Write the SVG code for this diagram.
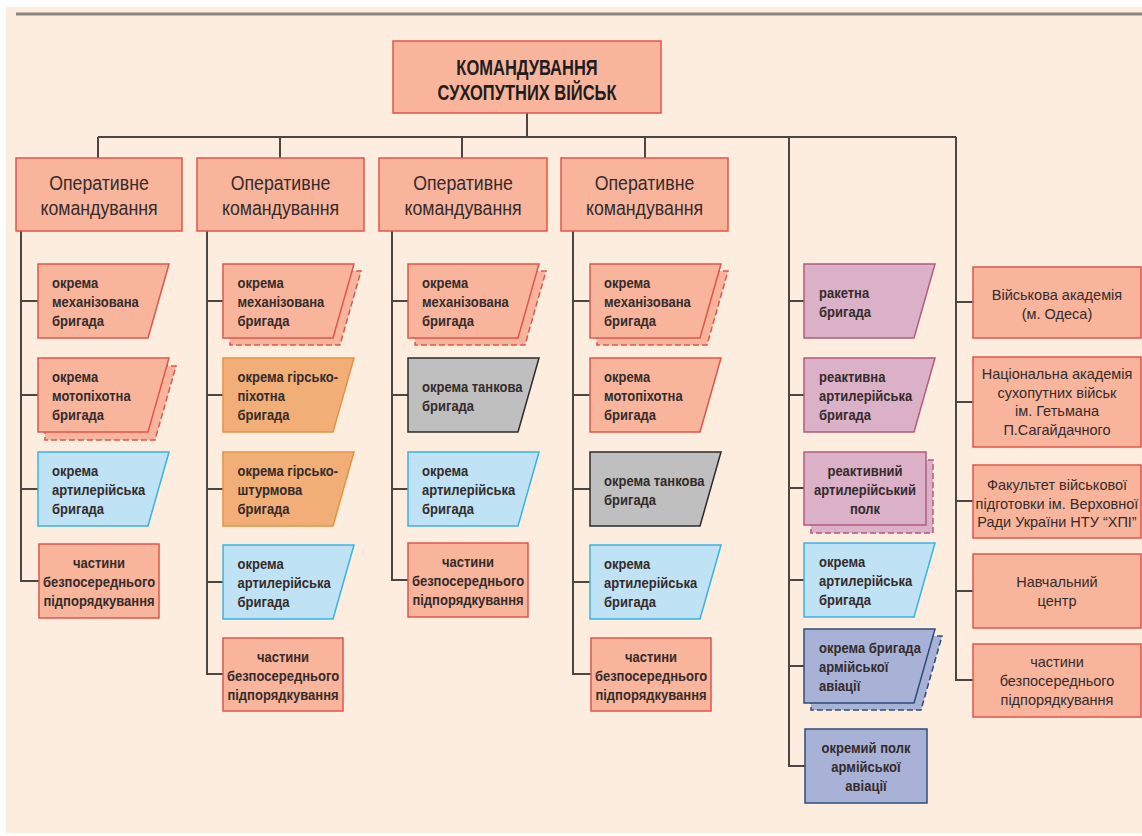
<svg xmlns="http://www.w3.org/2000/svg" width="1142" height="836" viewBox="0 0 1142 836">
<defs>
<style>
.sal{fill:#f8b59c;stroke:#e0554d;stroke-width:1.5}
.org{fill:#f2ae77;stroke:#e6913f;stroke-width:1.5}
.blu{fill:#bfe3f5;stroke:#3ab2e2;stroke-width:1.5}
.gry{fill:#bfbfbf;stroke:#2b2b2b;stroke-width:1.5}
.pur{fill:#dbb1c7;stroke:#b45a80;stroke-width:1.5}
.avi{fill:#a8b2d7;stroke:#2f4c78;stroke-width:1.5}
.dash{stroke-dasharray:6 3}
.conn{stroke:#4d4542;stroke-width:2;fill:none}
text{font-family:"Liberation Sans",Arial,sans-serif;fill:#352b2b}
.b{font-size:15.5px;font-weight:bold}
.c{text-anchor:middle}
.r{font-size:14.5px;text-anchor:middle}
.op{font-size:19.5px;text-anchor:middle}
.ti{font-size:22px;font-weight:bold;text-anchor:middle;fill:#231c1c}
</style>
<path id="para" d="M0,0 H131 L110,74 H0 Z"/>
</defs>
<rect x="0" y="0" width="1142" height="836" fill="#ffffff"/>
<rect x="6" y="7" width="1136" height="826" fill="#fdeddf"/>
<line x1="16" y1="14" x2="1142" y2="14" stroke="#8c8580" stroke-width="3"/>

<g id="connectors" class="conn">
<path d="M527,113 V137 M98,137 H956 M98,137 V158 M280,137 V158 M462,137 V158 M645,137 V158"/>
<path d="M21,231 V581 H39 M21,301 H38 M21,395 H38 M21,489 H38"/>
<path d="M207,231 V674 H223 M207,301 H223 M207,395 H223 M207,489 H223 M207,582 H223"/>
<path d="M392,231 V580 H408 M392,301 H408 M392,395 H408 M392,489 H408"/>
<path d="M573,231 V674 H591 M573,301 H590 M573,395 H590 M573,489 H590 M573,582 H590"/>
<path d="M789,137 V766 H805 M789,301 H804 M789,395 H804 M789,488 H804 M789,580 H804 M789,666 H804"/>
<path d="M956,137 V680 H973 M956,302 H973 M956,402 H973 M956,501 H973 M956,591 H973"/>
</g>

<g id="top">
<rect class="sal" x="393" y="41" width="268" height="72"/>
<g transform="translate(527 0) scale(0.75 1)"><text class="ti" y="75">КОМАНДУВАННЯ</text><text class="ti" y="100">СУХОПУТНИХ ВІЙСЬК</text></g>
</g>

<g id="op1"><rect class="sal" x="16" y="158" width="166" height="73"/>
<g transform="translate(99 0) scale(0.91 1)"><text class="op" y="190">Оперативне</text><text class="op" y="215">командування</text></g></g>
<g id="op2"><rect class="sal" x="197" y="158" width="167" height="73"/>
<g transform="translate(280.5 0) scale(0.91 1)"><text class="op" y="190">Оперативне</text><text class="op" y="215">командування</text></g></g>
<g id="op3"><rect class="sal" x="379" y="158" width="168" height="73"/>
<g transform="translate(463 0) scale(0.91 1)"><text class="op" y="190">Оперативне</text><text class="op" y="215">командування</text></g></g>
<g id="op4"><rect class="sal" x="561" y="158" width="167" height="73"/>
<g transform="translate(644.5 0) scale(0.91 1)"><text class="op" y="190">Оперативне</text><text class="op" y="215">командування</text></g></g>

<!-- column 1 -->
<g id="c1n1"><use href="#para" class="sal" x="38" y="264"/>
<g transform="translate(52 0) scale(0.84 1)"><text class="b" y="288.5">окрема</text><text class="b" y="307.5">механізована</text><text class="b" y="326.5">бригада</text></g></g>
<g id="c1n2"><use href="#para" class="sal dash" x="45" y="366"/><use href="#para" class="sal" x="38" y="358"/>
<g transform="translate(52 0) scale(0.84 1)"><text class="b" y="382.5">окрема</text><text class="b" y="401.5">мотопіхотна</text><text class="b" y="420.5">бригада</text></g></g>
<g id="c1n3"><use href="#para" class="blu" x="38" y="452"/>
<g transform="translate(52 0) scale(0.84 1)"><text class="b" y="476.5">окрема</text><text class="b" y="495.5">артилерійська</text><text class="b" y="514.5">бригада</text></g></g>
<g id="c1n4"><rect class="sal" x="39" y="544" width="120" height="74"/>
<g transform="translate(99 0) scale(0.84 1)"><text class="b c" y="568.5">частини</text><text class="b c" y="587.5">безпосереднього</text><text class="b c" y="606.5">підпорядкування</text></g></g>

<!-- column 2 -->
<g id="c2n1"><use href="#para" class="sal dash" x="230" y="271"/><use href="#para" class="sal" x="223" y="264"/>
<g transform="translate(237.5 0) scale(0.84 1)"><text class="b" y="288.5">окрема</text><text class="b" y="307.5">механізована</text><text class="b" y="326.5">бригада</text></g></g>
<g id="c2n2"><use href="#para" class="org" x="223" y="358"/>
<g transform="translate(237.5 0) scale(0.84 1)"><text class="b" y="382.5">окрема гірсько-</text><text class="b" y="401.5">піхотна</text><text class="b" y="420.5">бригада</text></g></g>
<g id="c2n3"><use href="#para" class="org" x="223" y="452"/>
<g transform="translate(237.5 0) scale(0.84 1)"><text class="b" y="476.5">окрема гірсько-</text><text class="b" y="495.5">штурмова</text><text class="b" y="514.5">бригада</text></g></g>
<g id="c2n4"><use href="#para" class="blu" x="223" y="545"/>
<g transform="translate(237.5 0) scale(0.84 1)"><text class="b" y="569.5">окрема</text><text class="b" y="588.5">артилерійська</text><text class="b" y="607.5">бригада</text></g></g>
<g id="c2n5"><rect class="sal" x="223" y="638" width="120" height="73"/>
<g transform="translate(283 0) scale(0.84 1)"><text class="b c" y="662">частини</text><text class="b c" y="681">безпосереднього</text><text class="b c" y="700">підпорядкування</text></g></g>

<!-- column 3 -->
<g id="c3n1"><use href="#para" class="sal dash" x="415" y="271"/><use href="#para" class="sal" x="408" y="264"/>
<g transform="translate(422 0) scale(0.84 1)"><text class="b" y="288.5">окрема</text><text class="b" y="307.5">механізована</text><text class="b" y="326.5">бригада</text></g></g>
<g id="c3n2"><use href="#para" class="gry" x="408" y="358"/>
<g transform="translate(422 0) scale(0.84 1)"><text class="b" y="392">окрема танкова</text><text class="b" y="411">бригада</text></g></g>
<g id="c3n3"><use href="#para" class="blu" x="408" y="452"/>
<g transform="translate(422 0) scale(0.84 1)"><text class="b" y="476.5">окрема</text><text class="b" y="495.5">артилерійська</text><text class="b" y="514.5">бригада</text></g></g>
<g id="c3n4"><rect class="sal" x="408" y="543" width="120" height="74"/>
<g transform="translate(468 0) scale(0.84 1)"><text class="b c" y="567.5">частини</text><text class="b c" y="586.5">безпосереднього</text><text class="b c" y="605.5">підпорядкування</text></g></g>

<!-- column 4 -->
<g id="c4n1"><use href="#para" class="sal dash" x="597" y="271"/><use href="#para" class="sal" x="590" y="264"/>
<g transform="translate(604 0) scale(0.84 1)"><text class="b" y="288.5">окрема</text><text class="b" y="307.5">механізована</text><text class="b" y="326.5">бригада</text></g></g>
<g id="c4n2"><use href="#para" class="sal" x="590" y="358"/>
<g transform="translate(604 0) scale(0.84 1)"><text class="b" y="382.5">окрема</text><text class="b" y="401.5">мотопіхотна</text><text class="b" y="420.5">бригада</text></g></g>
<g id="c4n3"><use href="#para" class="gry" x="590" y="452"/>
<g transform="translate(604 0) scale(0.84 1)"><text class="b" y="486">окрема танкова</text><text class="b" y="505">бригада</text></g></g>
<g id="c4n4"><use href="#para" class="blu" x="590" y="545"/>
<g transform="translate(604 0) scale(0.84 1)"><text class="b" y="569.5">окрема</text><text class="b" y="588.5">артилерійська</text><text class="b" y="607.5">бригада</text></g></g>
<g id="c4n5"><rect class="sal" x="591" y="638" width="120" height="73"/>
<g transform="translate(651 0) scale(0.84 1)"><text class="b c" y="662">частини</text><text class="b c" y="681">безпосереднього</text><text class="b c" y="700">підпорядкування</text></g></g>

<!-- column 5 -->
<g id="c5n1"><use href="#para" class="pur" x="804" y="264"/>
<g transform="translate(819 0) scale(0.84 1)"><text class="b" y="298">ракетна</text><text class="b" y="317">бригада</text></g></g>
<g id="c5n2"><use href="#para" class="pur" x="804" y="358"/>
<g transform="translate(819 0) scale(0.84 1)"><text class="b" y="382.5">реактивна</text><text class="b" y="401.5">артилерійська</text><text class="b" y="420.5">бригада</text></g></g>
<g id="c5n3"><rect class="pur dash" x="811" y="460" width="122" height="73"/><rect class="pur" x="804" y="452" width="122" height="73"/>
<g transform="translate(865 0) scale(0.84 1)"><text class="b c" y="476">реактивний</text><text class="b c" y="495">артилерійський</text><text class="b c" y="514">полк</text></g></g>
<g id="c5n4"><use href="#para" class="blu" x="804" y="543"/>
<g transform="translate(819 0) scale(0.84 1)"><text class="b" y="567.5">окрема</text><text class="b" y="586.5">артилерійська</text><text class="b" y="605.5">бригада</text></g></g>
<g id="c5n5"><use href="#para" class="avi dash" x="811" y="636"/><use href="#para" class="avi" x="804" y="629"/>
<g transform="translate(819 0) scale(0.84 1)"><text class="b" y="653.5">окрема бригада</text><text class="b" y="672.5">армійської</text><text class="b" y="691.5">авіації</text></g></g>
<g id="c5n6"><rect class="avi" x="805" y="729" width="122" height="74"/>
<g transform="translate(866 0) scale(0.84 1)"><text class="b c" y="753.5">окремий полк</text><text class="b c" y="772.5">армійської</text><text class="b c" y="791.5">авіації</text></g></g>

<!-- column 6 -->
<g id="c6n1"><rect class="sal" x="973" y="267" width="168" height="71"/>
<text class="r" x="1057" y="299.5">Військова академія</text><text class="r" x="1057" y="318.5">(м. Одеса)</text></g>
<g id="c6n2"><rect class="sal" x="973" y="357" width="168" height="90"/>
<text class="r" x="1057" y="379">Національна академія</text><text class="r" x="1057" y="397.5">сухопутних військ</text><text class="r" x="1057" y="416">ім. Гетьмана</text><text class="r" x="1057" y="434.5">П.Сагайдачного</text></g>
<g id="c6n3"><rect class="sal" x="973" y="465" width="168" height="73"/>
<text class="r" x="1057" y="490">Факультет військової</text><text class="r" x="1057" y="508.5">підготовки ім. Верховної</text><text class="r" x="1057" y="527">Ради України НТУ “ХПІ”</text></g>
<g id="c6n4"><rect class="sal" x="973" y="554" width="168" height="74"/>
<text class="r" x="1057" y="587">Навчальний</text><text class="r" x="1057" y="606">центр</text></g>
<g id="c6n5"><rect class="sal" x="973" y="644" width="168" height="73"/>
<text class="r" x="1057" y="667">частини</text><text class="r" x="1057" y="686">безпосереднього</text><text class="r" x="1057" y="705">підпорядкування</text></g>
</svg>
